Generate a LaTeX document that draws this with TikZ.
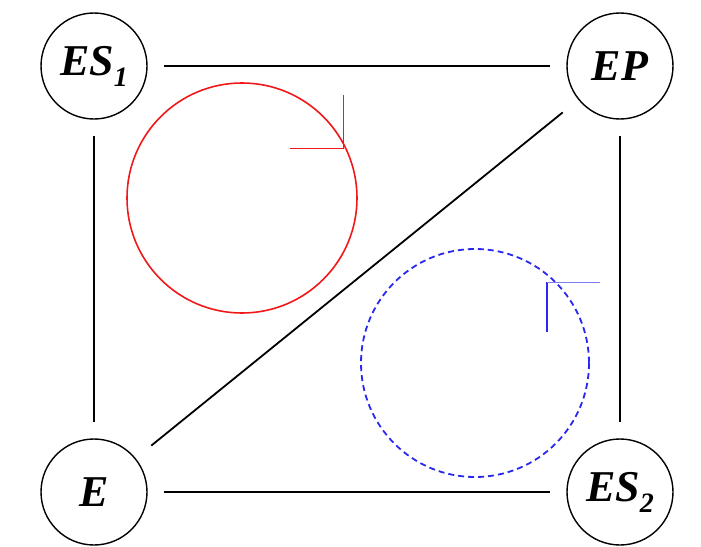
\documentclass[tikz,border=0pt]{standalone}
\usepackage{fontspec}
\setmainfont{Liberation Serif}
\usetikzlibrary{positioning}
\definecolor{loopRed}{HTML}{F01818}
\definecolor{loopBlue}{HTML}{2828F0}
\newcommand{\lowsub}[1]{\raisebox{-0.55ex}{\fontsize{14}{14}\selectfont #1}}
\tikzset{
  state/.style={
    circle,
    draw=black,
    line width=0.7pt,
    minimum size=53pt,
    inner sep=0pt,
    font=\fontsize{22}{26}\selectfont\bfseries\itshape
  },
  link/.style={line width=0.9pt, draw=black, shorten <=8pt, shorten >=8pt},
  redloop/.style={draw=loopRed, line width=0.8pt},
  blueloop/.style={draw=loopBlue, line width=0.9pt, dash pattern=on 3pt off 2pt},
  barb/.style={line width=0.35pt}
}
\begin{document}
\begin{tikzpicture}[x=0.5pt,y=-0.5pt]
  \useasboundingbox (0,0) rectangle (701,546);
  \node[state] (es1) at (94,66) {ES\lowsub{1}};
  \node[state] (ep) at (620,66) {EP};
  \node[state] (e) at (94,492) {E};
  \node[state] (es2) at (620,492) {ES\lowsub{2}};

  \draw[link] (es1) -- (ep);
  \draw[link] (es1) -- (e);
  \draw[link] (ep) -- (es2);
  \draw[link] (e) -- (es2);
  \draw[link, shorten <=10pt, shorten >=10pt] (e) -- (ep);

  % clockwise loop
  \draw[redloop] (242,198) circle[radius=115];
  \coordinate (redtip) at (343,148);
  \draw[barb, draw=loopRed] (343,95) -- (redtip) -- (290,148);

  % counter-clockwise loop
  \draw[blueloop] (475,363) circle[radius=114];
  \coordinate (bluetip) at (547,282);
  \draw[barb, draw=loopBlue, line width=0.8pt] (547,332) -- (bluetip);
  \draw[barb, draw=loopBlue!60] (bluetip) -- (600,282);
\end{tikzpicture}
\end{document}
